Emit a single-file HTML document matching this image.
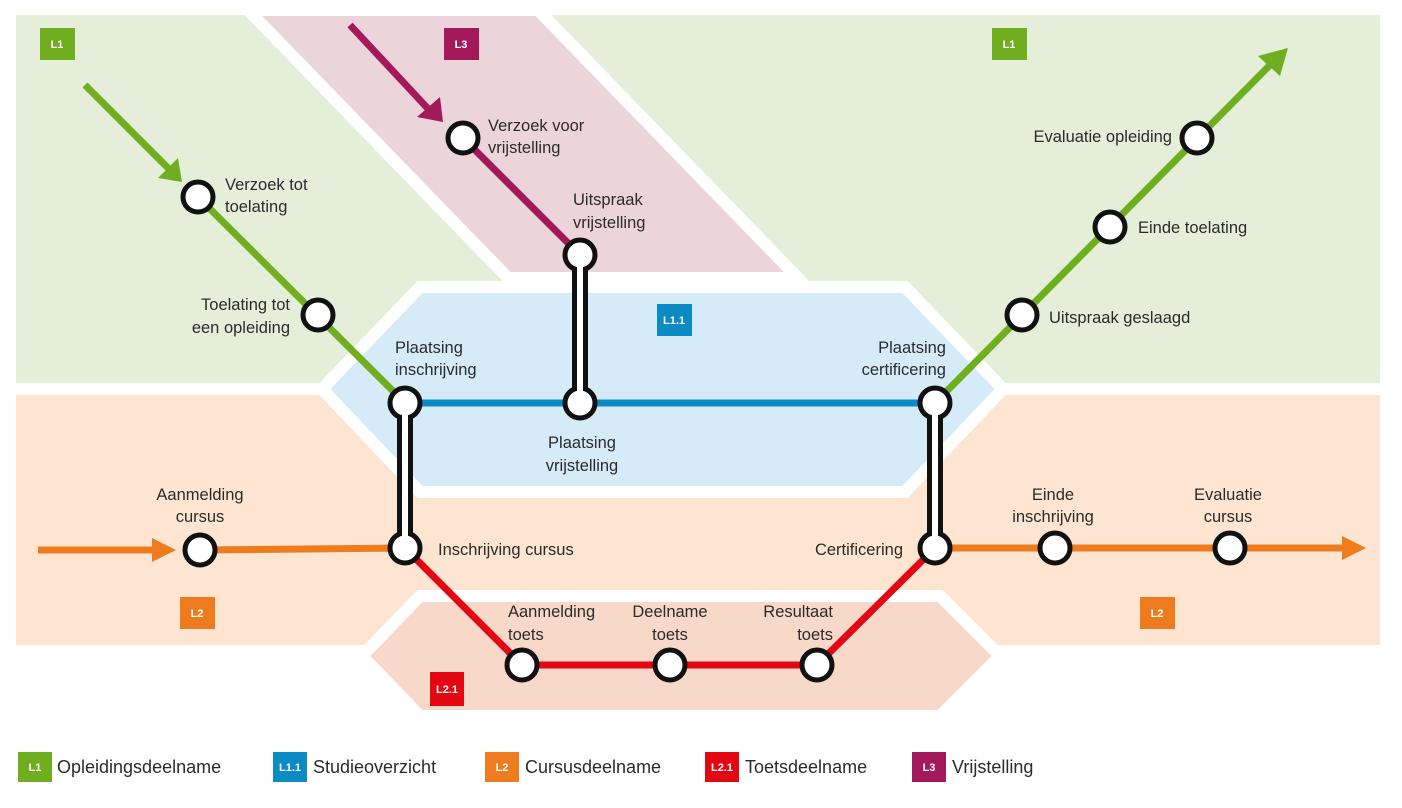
<!DOCTYPE html>
<html><head><meta charset="utf-8"><style>
html,body{margin:0;padding:0;background:#fff;}
svg{display:block;}
text{font-family:"Liberation Sans",sans-serif;fill:#2b2b2b;font-size:16.5px;}
.b{fill:#fff;font-size:11px;font-weight:bold;}
</style></head><body>
<svg width="1402" height="808" viewBox="0 0 1402 808" xmlns="http://www.w3.org/2000/svg">
<!-- backgrounds -->
<rect x="16" y="15" width="1364" height="368" fill="#e4eed8"/>
<rect x="16" y="395" width="1364" height="250" fill="#fde5d2"/>
<polygon points="248,10 538,10 798,278 508,278" fill="#ecd5da" stroke="#fff" stroke-width="12"/>
<polygon points="420,287 905,287 1003,389 905,492 420,492 322,389" fill="#d5ebf7" stroke="#fff" stroke-width="12"/>
<polygon points="420,596 940,596 1000,656 940,716 420,716 362,656" fill="#f8d8c8" stroke="#fff" stroke-width="12"/>
<!-- lines -->
<g fill="none" stroke-width="7">
<path d="M85,85 L172,172" stroke="#6fae1f"/>
<path d="M198,197 L405,403" stroke="#6fae1f"/>
<path d="M935,403 L1270,65" stroke="#6fae1f"/>
<path d="M350,25 L432,113" stroke="#a3195b"/>
<path d="M463,138 L580,255" stroke="#a3195b"/>
<path d="M405,403 L935,403" stroke="#0b8bc4"/>
<path d="M38,550 L160,550" stroke="#ee7b1d"/>
<path d="M200,550 L405,548" stroke="#ee7b1d"/>
<path d="M935,548 L1345,548" stroke="#ee7b1d"/>
<path d="M405,548 L522,665 L817,665 L935,548" stroke="#e30613"/>
</g>
<polygon points="158,178 182,182 178,158" fill="#6fae1f"/>
<polygon points="417,117 443,122 440,97" fill="#a3195b"/>
<polygon points="1288,48 1258,56 1280,76" fill="#6fae1f"/>
<polygon points="152,538 176,550 152,562" fill="#ee7b1d"/>
<polygon points="1342,536 1366,548 1342,560" fill="#ee7b1d"/>
<!-- connectors -->
<g stroke-linecap="round" fill="none">
<path d="M580,255 V403 M405,403 V548 M935,403 V548" stroke="#111" stroke-width="16"/>
<path d="M580,255 V403 M405,403 V548 M935,403 V548" stroke="#fff" stroke-width="6"/>
</g>
<!-- nodes -->
<g fill="#fff" stroke="#111" stroke-width="5">
<circle cx="198" cy="197" r="15"/><circle cx="318" cy="315" r="15"/>
<circle cx="463" cy="138" r="15"/><circle cx="580" cy="255" r="15"/>
<circle cx="405" cy="403" r="15"/><circle cx="580" cy="403" r="15"/><circle cx="935" cy="403" r="15"/>
<circle cx="1022" cy="315" r="15"/><circle cx="1110" cy="227" r="15"/><circle cx="1197" cy="138" r="15"/>
<circle cx="200" cy="550" r="15"/><circle cx="405" cy="548" r="15"/><circle cx="935" cy="548" r="15"/>
<circle cx="1055" cy="548" r="15"/><circle cx="1230" cy="548" r="15"/>
<circle cx="522" cy="665" r="15"/><circle cx="670" cy="665" r="15"/><circle cx="817" cy="665" r="15"/>
</g>
<g fill="#fff" stroke="none">
<rect x="577" y="262" width="6" height="134"/><rect x="402" y="410" width="6" height="131"/><rect x="932" y="410" width="6" height="131"/>
</g>
<!-- labels -->
<text x="225" y="190">Verzoek tot</text><text x="225" y="212">toelating</text>
<text x="290" y="310" text-anchor="end">Toelating tot</text><text x="290" y="333" text-anchor="end">een opleiding</text>
<text x="488" y="131">Verzoek voor</text><text x="488" y="153">vrijstelling</text>
<text x="573" y="205">Uitspraak</text><text x="573" y="228">vrijstelling</text>
<text x="395" y="353">Plaatsing</text><text x="395" y="375">inschrijving</text>
<text x="582" y="448" text-anchor="middle">Plaatsing</text><text x="582" y="471" text-anchor="middle">vrijstelling</text>
<text x="946" y="353" text-anchor="end">Plaatsing</text><text x="946" y="375" text-anchor="end">certificering</text>
<text x="1172" y="142" text-anchor="end">Evaluatie opleiding</text>
<text x="1138" y="233">Einde toelating</text>
<text x="1049" y="323">Uitspraak geslaagd</text>
<text x="200" y="500" text-anchor="middle">Aanmelding</text><text x="200" y="522" text-anchor="middle">cursus</text>
<text x="438" y="555">Inschrijving cursus</text>
<text x="903" y="555" text-anchor="end">Certificering</text>
<text x="1053" y="500" text-anchor="middle">Einde</text><text x="1053" y="522" text-anchor="middle">inschrijving</text>
<text x="1228" y="500" text-anchor="middle">Evaluatie</text><text x="1228" y="522" text-anchor="middle">cursus</text>
<text x="508" y="617">Aanmelding</text><text x="508" y="640">toets</text>
<text x="670" y="617" text-anchor="middle">Deelname</text><text x="670" y="640" text-anchor="middle">toets</text>
<text x="833" y="617" text-anchor="end">Resultaat</text><text x="833" y="640" text-anchor="end">toets</text>
<!-- badges -->
<rect x="40" y="28" width="35" height="32" fill="#6fae1f"/><text class="b" x="57" y="48" text-anchor="middle">L1</text>
<rect x="444" y="28" width="35" height="32" fill="#a3195b"/><text class="b" x="461" y="48" text-anchor="middle">L3</text>
<rect x="992" y="28" width="35" height="32" fill="#6fae1f"/><text class="b" x="1009" y="48" text-anchor="middle">L1</text>
<rect x="657" y="304" width="35" height="32" fill="#0b8bc4"/><text class="b" x="674" y="324" text-anchor="middle">L1.1</text>
<rect x="180" y="597" width="35" height="32" fill="#ee7b1d"/><text class="b" x="197" y="617" text-anchor="middle">L2</text>
<rect x="1140" y="597" width="35" height="32" fill="#ee7b1d"/><text class="b" x="1157" y="617" text-anchor="middle">L2</text>
<rect x="430" y="672" width="34" height="34" fill="#e30613"/><text class="b" x="447" y="693" text-anchor="middle">L2.1</text>
<!-- legend -->
<rect x="18" y="752" width="34" height="30" fill="#6fae1f"/><text class="b" x="35" y="771" text-anchor="middle">L1</text>
<text x="57" y="773" style="font-size:18px">Opleidingsdeelname</text>
<rect x="273" y="752" width="34" height="30" fill="#0b8bc4"/><text class="b" x="290" y="771" text-anchor="middle">L1.1</text>
<text x="313" y="773" style="font-size:18px">Studieoverzicht</text>
<rect x="485" y="752" width="34" height="30" fill="#ee7b1d"/><text class="b" x="502" y="771" text-anchor="middle">L2</text>
<text x="525" y="773" style="font-size:18px">Cursusdeelname</text>
<rect x="705" y="752" width="34" height="30" fill="#e30613"/><text class="b" x="722" y="771" text-anchor="middle">L2.1</text>
<text x="745" y="773" style="font-size:18px">Toetsdeelname</text>
<rect x="912" y="752" width="34" height="30" fill="#a3195b"/><text class="b" x="929" y="771" text-anchor="middle">L3</text>
<text x="952" y="773" style="font-size:18px">Vrijstelling</text>
</svg>
</body></html>
